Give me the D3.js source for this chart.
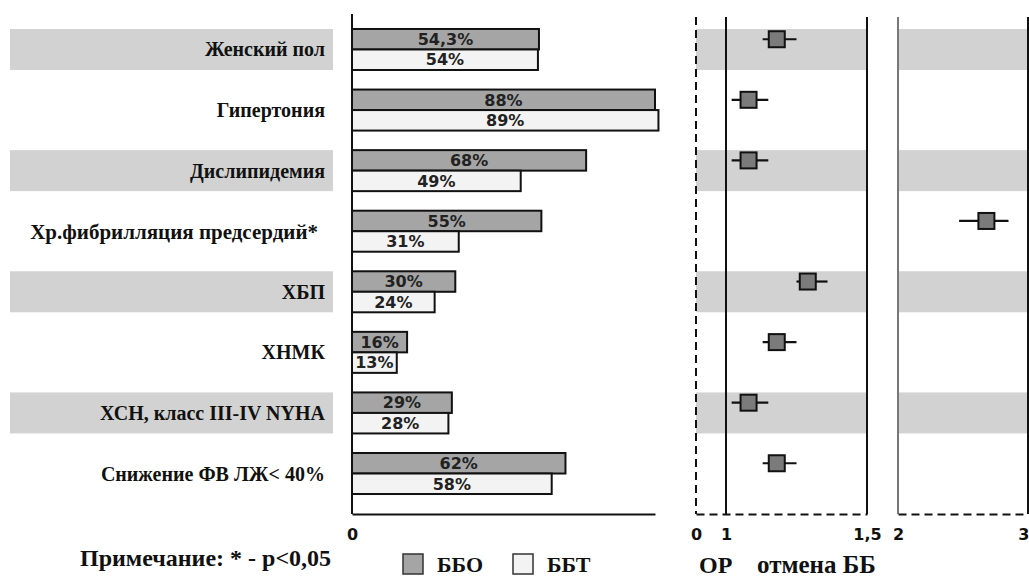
<!DOCTYPE html>
<html>
<head>
<meta charset="utf-8">
<script src="https://cdn.jsdelivr.net/npm/d3@7"></script>
<style>
  html, body { margin: 0; padding: 0; background: #fff; }
  svg { display: block; }
</style>
</head>
<body>
<svg id="chart" width="1029" height="577"></svg>
<script>
// ---------- data ----------
const categories = [
  "Женский пол",
  "Гипертония",
  "Дислипидемия",
  "Хр.фибрилляция предсердий*",
  "ХБП",
  "ХНМК",
  "ХСН, класс III-IV NYHA",
  "Снижение ФВ ЛЖ< 40%"
];
const shadedRows = [true, false, true, false, true, false, true, false];
const bboValues = [54.3, 88, 68, 55, 30, 16, 29, 62];   // ББО
const bbtValues = [54, 89, 49, 31, 24, 13, 28, 58];     // ББТ
const bboLabels = ["54,3%", "88%", "68%", "55%", "30%", "16%", "29%", "62%"];
const bbtLabels = ["54%", "89%", "49%", "31%", "24%", "13%", "28%", "58%"];
// odds ratio (ОР) for withdrawal of beta-blockers
const orValues = [1.18, 1.08, 1.08, 2.68, 1.29, 1.18, 1.08, 1.18];
const orLower  = [1.13, 1.02, 1.02, 2.47, 1.25, 1.13, 1.02, 1.13];
const orUpper  = [1.25, 1.15, 1.15, 2.85, 1.36, 1.25, 1.15, 1.25];
const barTicks = [0];
const orTicks1 = [0, 1, 1.5];
const orTicks2 = [2, 3];
const seriesNames = ["ББО", "ББТ"];

// ---------- layout ----------
const svg = d3.select("#chart");
const W = 1029, H = 577;
const axisY = 514, topY = 14;
const C = { bbo: "#a5a5a5", bbt: "#f3f3f3", band: "#d2d2d2", square: "#7b7b7b", ink: "#111" };
const serif = "'Liberation Serif','Times New Roman',serif";
const sans = "'DejaVu Sans',Verdana,sans-serif";

svg.append("rect").attr("width", W).attr("height", H).attr("fill", "#fff");

const y = d3.scaleBand().domain(categories).range([19.2, 503.8])
  .paddingInner(0.323).paddingOuter(0.1615);
const bh = y.bandwidth() / 2;

const x = d3.scaleLinear().domain([0, 88]).range([352, 655]);
const f1 = d3.scaleLinear().domain([0, 1, 1.5]).range([696, 726, 867]);
const f2 = d3.scaleLinear().domain([2, 3]).range([898, 1028]);
const fx = v => v >= 2 ? f2(v) : f1(v);

// shaded row bands
const bandRows = categories.filter((c, i) => shadedRows[i]);
[[10, 333], [f1(0), f1(1.5)], [f2(2), W]].forEach(([a, b]) => {
  svg.append("g").selectAll("rect").data(bandRows).join("rect")
    .attr("x", a).attr("width", b - a)
    .attr("y", d => y(d)).attr("height", y.bandwidth())
    .attr("fill", C.band);
});

// category labels
svg.append("g").selectAll("text").data(categories).join("text")
  .attr("x", (d, i) => i === 3 ? 318 : 325).attr("y", d => y(d) + y.bandwidth() / 2)
  .attr("dy", "0.35em")
  .attr("text-anchor", "end")
  .attr("font-family", serif).attr("font-weight", "bold")
  .attr("font-size", (d, i) => i === 3 ? 21 : 20)
  .attr("fill", C.ink)
  .text(d => d);

// bars
const barG = svg.append("g");
const rows = categories.map((c, i) => ({ c, i }));
barG.selectAll("rect.bbo").data(rows).join("rect").attr("class", "bbo")
  .attr("x", x(0)).attr("y", d => y(d.c))
  .attr("width", d => x(bboValues[d.i]) - x(0)).attr("height", bh)
  .attr("fill", C.bbo).attr("stroke", C.ink).attr("stroke-width", 2);
barG.selectAll("rect.bbt").data(rows).join("rect").attr("class", "bbt")
  .attr("x", x(0)).attr("y", d => y(d.c) + bh)
  .attr("width", d => x(bbtValues[d.i]) - x(0)).attr("height", bh)
  .attr("fill", C.bbt).attr("stroke", C.ink).attr("stroke-width", 2);
barG.selectAll("text.l1").data(rows).join("text").attr("class", "l1")
  .attr("x", d => (x(0) + x(bboValues[d.i])) / 2).attr("y", d => y(d.c) + bh / 2)
  .attr("dy", "0.36em").attr("text-anchor", "middle")
  .attr("font-family", sans).attr("font-weight", "bold").attr("font-size", 16)
  .attr("fill", "#222").text(d => bboLabels[d.i]);
barG.selectAll("text.l2").data(rows).join("text").attr("class", "l2")
  .attr("x", d => (x(0) + x(bbtValues[d.i])) / 2).attr("y", d => y(d.c) + bh * 1.5)
  .attr("dy", "0.36em").attr("text-anchor", "middle")
  .attr("font-family", sans).attr("font-weight", "bold").attr("font-size", 16)
  .attr("fill", "#222").text(d => bbtLabels[d.i]);

// bar axes
svg.append("line").attr("x1", x(0)).attr("x2", x(0)).attr("y1", topY).attr("y2", axisY)
  .attr("stroke", C.ink).attr("stroke-width", 2);
const gx = svg.append("g").attr("transform", `translate(0,${axisY})`)
  .call(d3.axisBottom(x).tickValues(barTicks).tickSizeInner(0).tickSizeOuter(0).tickPadding(15));
gx.select(".domain").attr("stroke", C.ink).attr("stroke-width", 2);
gx.selectAll("text").attr("font-family", sans).attr("font-weight", "bold").attr("font-size", 16).attr("fill", C.ink);

// forest plot frame
const vline = (xx, color, w, dash) => svg.append("line")
  .attr("x1", xx).attr("x2", xx).attr("y1", topY + 3).attr("y2", axisY)
  .attr("stroke", color).attr("stroke-width", w).attr("stroke-dasharray", dash || null);
vline(f1(0), C.ink, 2, "8,5");
vline(f1(1), C.ink, 2);
vline(f1(1.5), C.ink, 2);
vline(f2(2), "#777", 2);
vline(f2(3), C.ink, 2);

const fmt = d => String(d).replace(".", ",");
[[f1, orTicks1], [f2, orTicks2]].forEach(([s, t]) => {
  const g = svg.append("g").attr("transform", `translate(0,${axisY})`)
    .call(d3.axisBottom(s).tickValues(t).tickFormat(fmt).tickSizeInner(0).tickSizeOuter(0).tickPadding(15));
  g.select(".domain").attr("stroke", C.ink).attr("stroke-width", 2).attr("stroke-dasharray", "8,5");
  g.selectAll("text").attr("font-family", sans).attr("font-weight", "bold").attr("font-size", 16).attr("fill", C.ink);
  // keep the last label inside the picture
  g.selectAll(".tick").filter(d => d === 3).select("text")
    .attr("text-anchor", "end").attr("dx", "0.05em");
});

// forest points
const fg = svg.append("g");
const py = d => y(d.c) + bh / 2;
fg.selectAll("line").data(rows).join("line")
  .attr("x1", d => fx(orLower[d.i])).attr("x2", d => fx(orUpper[d.i]))
  .attr("y1", py).attr("y2", py)
  .attr("stroke", C.ink).attr("stroke-width", 2.2);
const sq = 16;
fg.selectAll("rect").data(rows).join("rect")
  .attr("x", d => fx(orValues[d.i]) - sq / 2).attr("y", d => py(d) - sq / 2)
  .attr("width", sq).attr("height", sq)
  .attr("fill", C.square).attr("stroke", C.ink).attr("stroke-width", 2);

// bottom texts
svg.append("text").attr("x", 80).attr("y", 566)
  .attr("font-family", serif).attr("font-weight", "bold").attr("font-size", 24).attr("fill", C.ink)
  .text("Примечание: * - p<0,05");

const leg = svg.append("g");
const legX = [403, 513];
const legFill = [C.bbo, C.bbt];
leg.selectAll("rect").data(seriesNames).join("rect")
  .attr("x", (d, i) => legX[i]).attr("y", 554).attr("width", 20).attr("height", 20)
  .attr("fill", (d, i) => legFill[i]).attr("stroke", "#333").attr("stroke-width", 1.5);
leg.selectAll("text").data(seriesNames).join("text")
  .attr("x", (d, i) => legX[i] + 34).attr("y", 572)
  .attr("font-family", serif).attr("font-weight", "bold").attr("font-size", 22).attr("fill", C.ink)
  .text(d => d);

svg.append("text").attr("x", 699).attr("y", 573)
  .attr("font-family", serif).attr("font-weight", "bold").attr("font-size", 24).attr("fill", C.ink)
  .text("ОР");
svg.append("text").attr("x", 757).attr("y", 573)
  .attr("font-family", serif).attr("font-weight", "bold").attr("font-size", 25).attr("fill", C.ink)
  .text("отмена ББ");
</script>
</body>
</html>
